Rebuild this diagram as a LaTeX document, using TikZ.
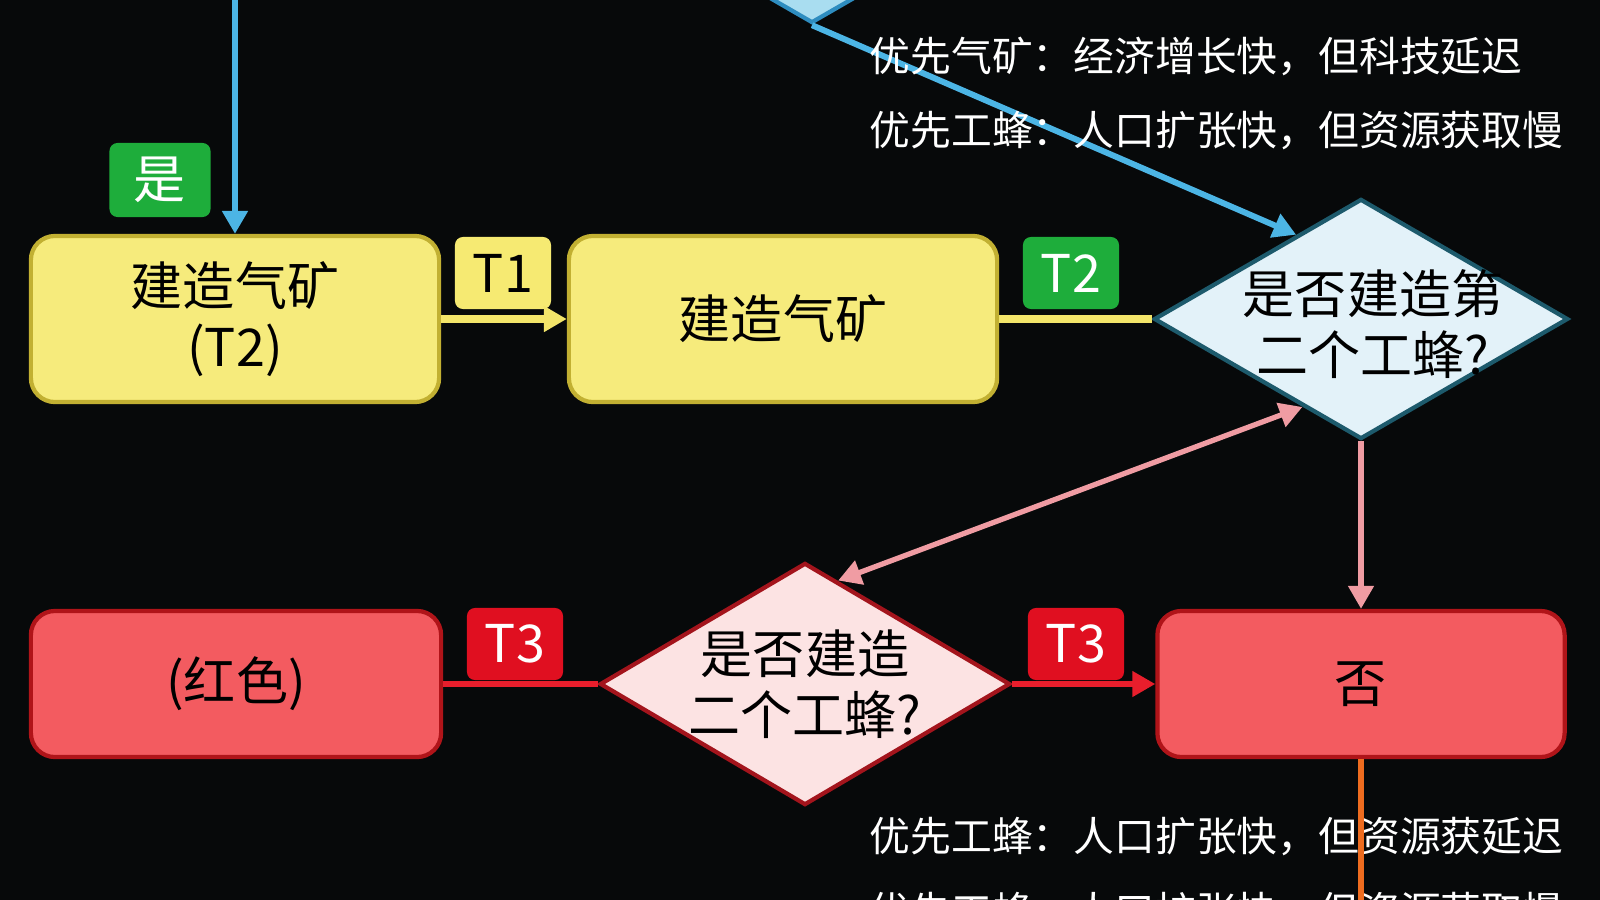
\documentclass[tikz,border=0pt]{standalone}
\usepackage{fontspec}
\setmainfont{Noto Sans CJK SC}
\usepackage{xcolor}
\usetikzlibrary{positioning}
\usetikzlibrary{arrows.meta}
\usetikzlibrary{shapes.geometric}
\usetikzlibrary{calc}
\usetikzlibrary{math}

\definecolor{bgdark}{HTML}{07090A}
\definecolor{boxyellow}{HTML}{F6EB7C}
\definecolor{edgeyellow}{HTML}{C2B032}
\definecolor{arrowyellow}{HTML}{F3E56A}
\definecolor{tagyellow}{HTML}{F6EA72}
\definecolor{taggreen}{HTML}{1EAD3B}
\definecolor{qblue}{HTML}{E3F2F9}
\definecolor{edgeblue}{HTML}{1D5A6C}
\definecolor{qcyan}{HTML}{A9DDF0}
\definecolor{edgecyan}{HTML}{2E8DC0}
\definecolor{arrowblue}{HTML}{4CB5E5}
\definecolor{arrowpink}{HTML}{F09CA3}
\definecolor{boxred}{HTML}{F35B60}
\definecolor{edgered}{HTML}{B01419}
\definecolor{tagred}{HTML}{E00F20}
\definecolor{arrowred}{HTML}{E81E2C}
\definecolor{qpink}{HTML}{FCE3E3}
\definecolor{edgepink}{HTML}{A3141C}
\definecolor{arroworange}{HTML}{EE6C1F}

\tikzset{
  stepbox/.style={rectangle, rounded corners=2.4mm, draw, line width=1.2pt,
    inner sep=0pt, align=center, text=black,
    font=\fontsize{14.8}{17.4}\selectfont},
  ybox/.style={stepbox, fill=boxyellow, draw=edgeyellow, minimum height=1.66cm},
  rbox/.style={stepbox, fill=boxred, draw=edgered, minimum height=1.46cm},
  tagbox/.style={rectangle, rounded corners=0.8mm, inner sep=0pt,
    minimum width=0.96cm, minimum height=0.72cm,
    font=\fontsize{14.8}{17}\selectfont},
  question/.style={diamond, draw, line width=1.2pt, inner sep=0pt,
    minimum width=4.14cm, minimum height=2.4cm},
  qtext/.style={align=center, text=black, font=\fontsize{14.8}{17.4}\selectfont},
  note/.style={anchor=west, inner sep=0pt, text=white,
    font=\fontsize{11.6}{14}\selectfont},
  flow/.style={line width=1.7pt},
  headed/.style={-{Triangle[width=7pt,length=6.5pt]}},
  bothheaded/.style={{Triangle[width=7pt,length=6.5pt]}-{Triangle[width=7pt,length=6.5pt]}},
}

\begin{document}
\begin{tikzpicture}[x=0.01cm,y=-0.01cm]

  \tikzmath{
    \rowa = 319;  % row of the yellow boxes
    \rowb = 684;  % row of the red boxes
    \colr = 1361; % column of the right diamond
  }

  % dark page
  \fill[bgdark] (0,0) rectangle (1600,900);
  \useasboundingbox (0,0) rectangle (1600,900);

  % upper row
  \node[ybox, minimum width=4.08cm] (gas1) at (235,\rowa) {建造气矿\\(T2)};
  \node[ybox, minimum width=4.28cm] (gas2) at (783,\rowa) {建造气矿};
  \node[question, fill=qblue, draw=edgeblue,
    label={[qtext, xshift=0.12cm, yshift=-0.05cm]center:是否建造第\\二个工蜂?}] (q1) at (\colr,\rowa) {};

  % diamond cut by the top edge
  \node[question, fill=qcyan, draw=edgecyan] (q0) at (812,-97) {};

  % lower row
  \node[rbox, minimum width=4.1cm] (red1) at (236,\rowb) {(红色)};
  \node[question, fill=qpink, draw=edgepink, minimum width=4.1cm, minimum height=2.42cm,
    label={[qtext]center:是否建造\\二个工蜂?}] (q2) at (805,\rowb) {};
  \node[rbox, minimum width=4.07cm] (red2) at (\colr,\rowb) {否};

  % tags over the links
  \node[tagbox, fill=taggreen, text=white, minimum width=1.01cm, minimum height=0.74cm] (yes) at (160,180) {是};
  \node[tagbox, fill=tagyellow, text=black] (t1) at (503,273) {T1};
  \node[tagbox, fill=taggreen, text=white] (t2) at (1071,273) {T2};
  \node[tagbox, fill=tagred, text=white] (t3a) at (515,644) {T3};
  \node[tagbox, fill=tagred, text=white] (t3b) at (1076,644) {T3};

  % links
  \coordinate (feed) at ($(gas1.north)+(0,-260)$);
  \draw[flow, draw=arrowblue, headed] (feed) -- (gas1.north);
  \draw[flow, draw=arrowyellow, line width=2pt, headed] (gas1) -- (gas2);
  \draw[flow, draw=arrowyellow, line width=2pt] (gas2) -- (q1);
  \draw[flow, draw=arrowblue, headed] (q0.south) -- ($(q1.west)!0.69!(q1.north)$);
  \draw[flow, draw=arrowpink, line width=1.5pt, bothheaded]
    ($(q1.west)!0.72!(q1.south)$) -- ($(q2.north)!0.16!(q2.east)$);
  \draw[flow, draw=arrowpink, line width=1.5pt, headed] (q1.south) -- (red2.north);
  \draw[flow, draw=arrowred, line width=1.5pt] (red1) -- (q2);
  \draw[flow, draw=arrowred, line width=1.5pt, headed] (q2) -- (red2);

  % notes
  \node[note] (n1) at (869,56) {优先气矿：经济增长快，但科技延迟};
  \node[note] (n2) at (869,131) {优先工蜂：人口扩张快，但资源获取慢};
  \node[note] (n3) at (869,837) {优先工蜂：人口扩张快，但资源获延迟};
  \node[note] (n4) at (869,912) {优先工蜂：人口扩张快，但资源获取慢};

  % link running off the bottom
  \coordinate (drain) at ($(red2.south)+(0,200)$);
  \draw[flow, draw=arroworange, line width=1.5pt] (red2.south) -- (drain);

\end{tikzpicture}
\end{document}
